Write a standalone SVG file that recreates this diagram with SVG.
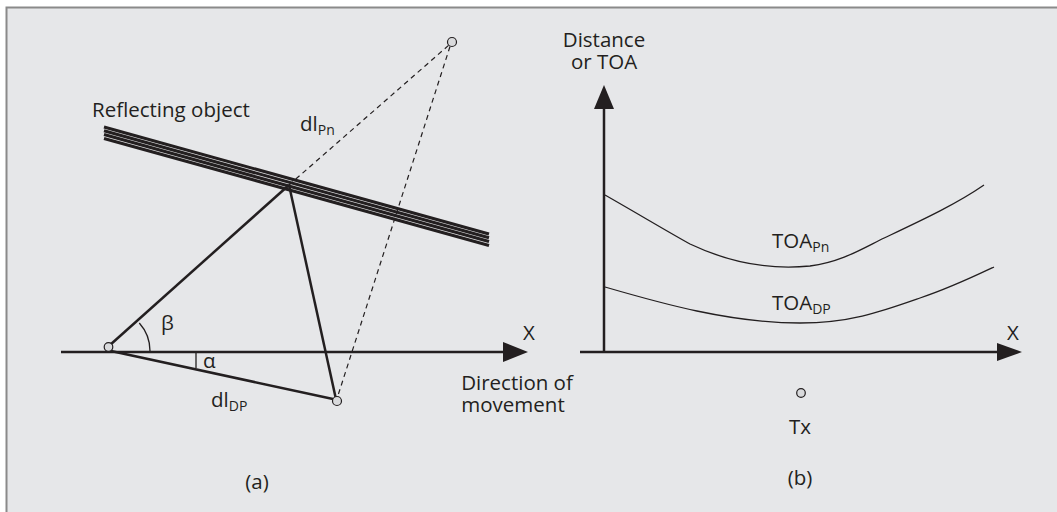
<svg xmlns="http://www.w3.org/2000/svg" width="1057" height="512" viewBox="0 0 1057 512">
<defs>
<style>
.t{font-family:"Open Sans","Liberation Sans",sans-serif;font-size:20.5px;fill:#231f20}
.s{font-size:14px}
.ln{stroke:#231f20;stroke-width:2.5;fill:none}
.rf{stroke:#231f20;stroke-width:3.1;fill:none}
.th{stroke:#231f20;stroke-width:1.3;fill:none}
.ds{stroke:#231f20;stroke-width:1.2;stroke-dasharray:5,4;fill:none}
.pt{fill:#d9dadc;stroke:#231f20;stroke-width:1.2}
.ah{fill:#231f20}
</style>
</defs>
<rect x="0" y="0" width="1057" height="512" fill="#ffffff"/>
<rect x="6.5" y="7.5" width="1060" height="520" fill="#e6e7e9" stroke="#8a8a8a" stroke-width="2"/>

<g id="reflector">
<line class="rf" x1="104" y1="127" x2="489" y2="234"/>
<line class="rf" x1="104" y1="130.8" x2="489" y2="237.8"/>
<line class="rf" x1="104" y1="134.6" x2="489" y2="241.6"/>
<line class="rf" x1="104" y1="138.4" x2="489" y2="245.4"/>
<text class="t" x="92" y="117">Reflecting object</text>
</g>

<g id="connectors">
<line class="ds" x1="289" y1="185" x2="449" y2="45"/>
<line class="ds" x1="450" y1="46.5" x2="337.5" y2="397"/>
<line class="ln" x1="110" y1="345" x2="289" y2="185"/>
<line class="ln" x1="289" y1="185" x2="335.5" y2="397"/>
<line class="ln" x1="111" y1="351" x2="333" y2="399"/>
<path class="th" d="M150,351 A42,42 0 0 0 139.3,323"/>
<line class="th" x1="196" y1="351" x2="196" y2="368"/>
</g>

<g id="axis-a">
<line class="ln" x1="61" y1="352" x2="505" y2="352"/>
<polygon class="ah" points="503,342 528,352 503,362"/>
<text class="t" x="523" y="340">X</text>
<text class="t" text-anchor="middle"><tspan x="517" y="390">Direction of</tspan><tspan x="513" y="412">movement</tspan></text>
</g>

<g id="tx-a">
<circle class="pt" cx="108.5" cy="347" r="4.3"/>
</g>
<g id="rx-a">
<circle class="pt" cx="337" cy="401" r="4.5"/>
</g>
<g id="image-a">
<circle class="pt" cx="452" cy="42" r="4.5"/>
</g>

<g id="labels-a">
<text class="t" x="161" y="330">β</text>
<text class="t" x="203" y="368">α</text>
<text class="t" x="300" y="131">dl<tspan class="s" dy="4">Pn</tspan></text>
<text class="t" x="211" y="407">dl<tspan class="s" dy="4">DP</tspan></text>
<text class="t" x="257" y="489" text-anchor="middle">(a)</text>
</g>

<g id="axes-b">
<line class="ln" x1="604" y1="352" x2="604" y2="107"/>
<polygon class="ah" points="594,109 604,85 614,109"/>
<line class="ln" x1="580" y1="352" x2="999" y2="352"/>
<polygon class="ah" points="997,343 1022,352 997,361"/>
<text class="t" x="1007" y="340">X</text>
<text class="t" text-anchor="middle"><tspan x="604" y="47">Distance</tspan><tspan x="604" y="69">or TOA</tspan></text>
</g>

<g id="toa-pn">
<path class="th" d="M605,195 C640,215 670,233 690,244 C730,263 770,270 810,266 C840,262 860,250 880,240 C920,221 955,205 984,185"/>
<text class="t" x="772" y="248">TOA<tspan class="s" dy="4">Pn</tspan></text>
</g>

<g id="toa-dp">
<path class="th" d="M605,287 C660,303 730,323 800,323 C850,323 880,312 920,298 C950,288 975,276 994,267"/>
<text class="t" x="772" y="310">TOA<tspan class="s" dy="4">DP</tspan></text>
</g>

<g id="tx-b">
<circle class="pt" cx="801" cy="393" r="4.3"/>
<text class="t" x="800" y="434" text-anchor="middle">Tx</text>
</g>
<text class="t" x="800" y="485" text-anchor="middle">(b)</text>
</svg>
